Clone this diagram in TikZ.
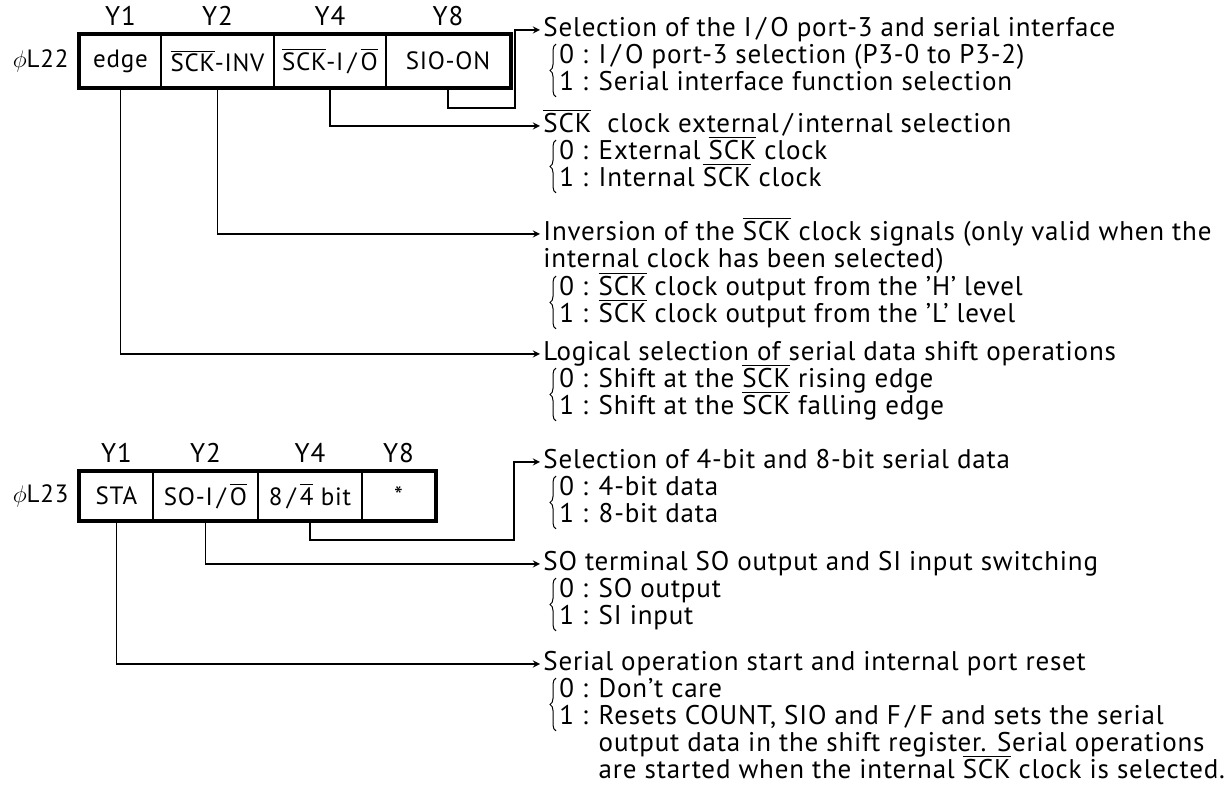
\documentclass[tikz,border=0pt]{standalone}
\usepackage{fontspec}
\setmainfont{PT Sans}[LetterSpace=3.0]
\usepackage{tikz}
\usetikzlibrary{arrows, positioning, calc, decorations.pathreplacing}
\newcommand{\ovl}[1]{\ensuremath{\overline{\mbox{#1}}}}
\tikzstyle{arrow}   = [line width=0.6pt,->,>=stealth]
\tikzstyle{cell}    = [rectangle, draw, line width=1.2pt, inner sep=0pt, minimum height=26pt, font=\fontsize{12.5}{15}\selectfont]
\tikzstyle{frame}   = [line width=2pt]
\tikzstyle{regname} = [inner sep=0pt, font=\fontsize{12.5}{15}\selectfont]
\tikzstyle{txt}     = [anchor=west, inner ysep=0pt, inner xsep=1.5pt, text height=9.5pt, text depth=3pt]
\tikzstyle{bitname} = [anchor=south, inner sep=0pt]
\tikzstyle{choice}  = [decorate, decoration={brace, amplitude=3pt}, line width=0.5pt]
\tikzset{every node/.style={align=left, font=\fontsize{13.5}{15}\selectfont}}

\begin{document}
\begin{tikzpicture}[x=0.5pt, y=-0.5pt]
  \useasboundingbox (0,0) rectangle (1227,785);

  % Register phi L22
  \node[cell, minimum width=40.5pt] (aEdge) at (120.5,61) {edge};
  \node[cell, minimum width=56.5pt] (aInv) at (217.5,61) {\ovl{SCK}-INV};
  \node[cell, minimum width=56pt] (aIO) at (330,61) {\ovl{SCK}-I\,/\,\ovl{O}};
  \node[cell, minimum width=62pt] (aOn) at (448,61) {SIO-ON};
  \draw[frame] (aEdge.north west) rectangle (aOn.south east);
  \node[regname, left=5pt of aEdge] (aReg) {$\phi$L22};
  \foreach \c/\b in {aEdge/1, aInv/2, aIO/4, aOn/8}
      \node[bitname] (y\c) at ($(\c.north)+(0,-8)$) {Y\b};

  % Explanations for L22
  \node[txt] (tA) at (540,30) {Selection of the I\,/\,O port-3 and serial interface};
  \node[txt] (A0) at (556,57) {0 : I\,/\,O port-3 selection (P3-0 to P3-2)};
  \node[txt] (A1) at (556,84) {1 : Serial interface function selection};
  \draw[choice] (A1.south west) -- (A0.north west);

  \node[txt] (tB) at (540,126) {\ovl{SCK}\ \ clock external\,/\,internal selection};
  \node[txt] (B0) at (556,153) {0 : External \ovl{SCK} clock};
  \node[txt] (B1) at (556,180) {1 : Internal \ovl{SCK} clock};
  \draw[choice] (B1.south west) -- (B0.north west);

  \node[txt] (tC) at (540,234) {Inversion of the \ovl{SCK} clock signals (only valid when the};
  \node[txt] (tC2) at (540,261) {internal clock has been selected)};
  \node[txt] (C0) at (556,289) {0 : \ovl{SCK} clock output from the ’H’ level};
  \node[txt] (C1) at (556,316) {1 : \ovl{SCK} clock output from the ’L’ level};
  \draw[choice] (C1.south west) -- (C0.north west);

  \node[txt] (tD) at (540,354) {Logical selection of serial data shift operations};
  \node[txt] (D0) at (556,381) {0 : Shift at the \ovl{SCK} rising edge};
  \node[txt] (D1) at (556,408) {1 : Shift at the \ovl{SCK} falling edge};
  \draw[choice] (D1.south west) -- (D0.north west);

  % Connectors L22
  \coordinate (kA) at (515,108);
  \draw[arrow] (aOn.south) |- (kA) |- (tA.west);
  \draw[arrow] (aIO.south) |- (tB.west);
  \draw[arrow] (aInv.south) |- (tC.west);
  \draw[arrow] (aEdge.south) |- (tD.west);

  % Register phi L23
  \node[cell, minimum width=36.5pt, minimum height=24pt] (bSta) at (116.5,496) {STA};
  \node[cell, minimum width=52.5pt, minimum height=24pt] (bSo) at (205.5,496) {SO-I\,/\,\ovl{O}};
  \node[cell, minimum width=52pt, minimum height=24pt] (bBit) at (310,496) {8\,/\,\ovl{4}\ bit};
  \node[cell, minimum width=36.5pt, minimum height=24pt] (bStar) at (398.5,496) {*};
  \draw[frame] (bSta.north west) rectangle (bStar.south east);
  \node[regname, left=5pt of bSta] (bReg) {$\phi$L23};
  \foreach \c/\b in {bSta/1, bSo/2, bBit/4, bStar/8}
      \node[bitname] (y\c) at ($(\c.north)+(0,-8)$) {Y\b};

  % Explanations for L23
  \node[txt] (tE) at (540,462) {Selection of 4-bit and 8-bit serial data};
  \node[txt] (E0) at (556,489) {0 : 4-bit data};
  \node[txt] (E1) at (556,516) {1 : 8-bit data};
  \draw[choice] (E1.south west) -- (E0.north west);

  \node[txt] (tF) at (540,564) {SO terminal SO output and SI input switching};
  \node[txt] (F0) at (556,591) {0 : SO output};
  \node[txt] (F1) at (556,618) {1 : SI input};
  \draw[choice] (F1.south west) -- (F0.north west);

  \node[txt] (tG) at (540,664) {Serial operation start and internal port reset};
  \node[txt] (G0) at (556,691) {0 : Don’t care};
  \node[txt] (G1) at (556,718) {1 : Resets COUNT, SIO and F\,/\,F and sets the serial};
  \node[txt] (G2) at (556,745) {\phantom{1 : }output data in the shift register. Serial operations};
  \node[txt] (G3) at (556,772) {\phantom{1 : }are started when the internal \ovl{SCK} clock is selected.};
  \draw[choice] (G1.south west) -- (G0.north west);

  % Connectors L23
  \coordinate (kE) at (514,540);
  \draw[arrow] (bBit.south) |- (kE) |- (tE.west);
  \draw[arrow] (bSo.south) |- (tF.west);
  \draw[arrow] (bSta.south) |- (tG.west);
\end{tikzpicture}
\end{document}
